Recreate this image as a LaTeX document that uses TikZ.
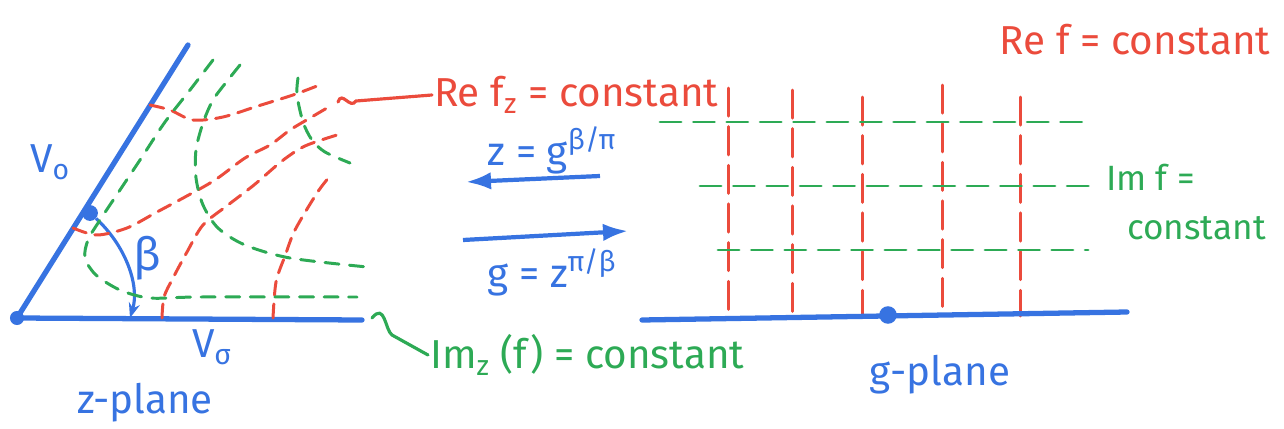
\documentclass[tikz,border=0pt]{standalone}
\usepackage{fontspec}
\setmainfont{Fira Sans}
\usepackage{tikz}
\usetikzlibrary{arrows.meta,positioning}
\definecolor{penblue}{RGB}{55,115,225}
\definecolor{penred}{RGB}{235,75,60}
\definecolor{pengreen}{RGB}{45,170,85}
\tikzset{
cmbound/.style={penblue,line width=3pt,line cap=round},
cmre/.style={penred,line width=1.7pt,dash pattern=on 8pt off 5pt,line cap=round},
cmim/.style={pengreen,line width=1.7pt,dash pattern=on 8pt off 6pt,line cap=round},
cmgre/.style={cmre,dash pattern=on 16pt off 6pt},
cmgim/.style={cmim,dash pattern=on 12pt off 7pt},
cmdot/.style={circle,fill=penblue,inner sep=0pt,minimum size=8pt},
cmmap/.style={penblue,line width=2.4pt,-{Latex[length=5mm,width=3.5mm]}},
cmangle/.style={penblue,line width=1.8pt,-{Stealth[length=3mm]}},
cmpoint/.style={line width=1.8pt,line cap=round},
cmtext/.style={font=\fontsize{23}{25}\selectfont,inner sep=1pt}
}

\begin{document}
\begin{tikzpicture}[
x=0.02cm,
y=-0.02cm
]
\useasboundingbox (0,0) rectangle (1284,429);
% z-plane
\coordinate (vertex) at (17,318);
\coordinate (vtop) at (188,45);
\coordinate (zend) at (362,320);
\draw[cmbound] (vtop)--(vertex)--(zend);
\node[cmdot] (vdot) at (vertex) {};
\node[cmdot,minimum size=9pt] (bdot) at (90,213) {};
\coordinate (bend) at (130,318);
\draw[cmangle] (bdot) .. controls (125,245) and (140,285) .. (bend);
\draw[cmre] plot[smooth] coordinates {(150,105) (170,110) (193,120) (223,117) (258,106) (293,95) (317,86)};
\draw[cmre] plot[smooth] coordinates {(73,228) (97,235) (127,228) (157,212) (185,197) (215,180) (245,158) (270,145) (290,130) (310,118) (327,108)};
\draw[cmre] plot[smooth] coordinates {(162,318) (164,297) (173,278) (187,252) (203,225) (228,205) (254,185) (282,161) (305,146) (337,135)};
\draw[cmre] plot[smooth] coordinates {(273,318) (276,282) (285,256) (295,230) (317,193) (330,176)};
\draw[cmim] plot[smooth] coordinates {(213,60) (190,90) (165,122) (142,157) (120,190) (100,220) (88,240) (85,258) (96,275) (120,290) (150,298) (200,297) (357,297)};
\draw[cmim] plot[smooth] coordinates {(240,65) (228,80) (213,100) (203,123) (196,150) (196,178) (203,205) (218,228) (245,245) (290,258) (367,267)};
\draw[cmim] plot[smooth] coordinates {(298,78) (297,95) (303,122) (312,140) (325,152) (350,163)};
\node[cmtext,penblue] (vo) at (50,162) {V\textsubscript{o}};
\node[cmtext,penblue] (vs) at (212,347) {V\textsubscript{σ}};
\node[cmtext,penblue,font=\fontsize{26}{28}\selectfont] (beta) at (147,258) {β};
\node[cmtext,penblue] (zplane) at (145,403) {z-plane};
\node[cmtext,penred,anchor=west] (rez) at (432,95) {Re f\textsubscript{z} = constant};
\coordinate (repoint) at (338,102);
\draw[cmpoint,penred] (repoint) .. controls (342,90) and (350,110) .. (356,101) -- (rez.west);
\node[cmtext,pengreen,anchor=west] (imz) at (428,355) {Im\textsubscript{z} (f) = constant};
\coordinate (impoint) at (372,318);
\draw[cmpoint,pengreen] (impoint) .. controls (385,302) and (385,330) .. (392,335) -- (imz.west);
% mapping
\coordinate (mapla) at (600,176);
\coordinate (maplb) at (466,182);
\draw[cmmap] (mapla)--(maplb);
\node[cmtext,penblue] (zmap) at (552,150) {z = g\textsuperscript{β/π}};
\coordinate (mapra) at (463,240);
\coordinate (maprb) at (628,231);
\draw[cmmap] (mapra)--(maprb);
\node[cmtext,penblue] (gmap) at (552,272) {g = z\textsuperscript{π/β}};
% g-plane
\coordinate (gleft) at (642,320);
\coordinate (gright) at (1127,312);
\foreach \gx/\gy in {728/88,792/90,862/97,942/85,1020/97}
  \draw[cmgre] (\gx,\gy)--(\gx,316);
\draw[cmgim] (660,122)--(1090,122);
\draw[cmgim] (700,186)--(1095,186);
\draw[cmgim] (718,250)--(1088,250);
\draw[cmbound] (gleft)--(gright);
\node[cmdot,minimum size=10pt] (gdot) at (888,315) {};
\node[cmtext,penred] (ref) at (1135,40) {Re f = constant};
\node[cmtext,pengreen,anchor=west,align=left,font=\fontsize{20}{28}\selectfont] (imf) at (1104,202) {Im f =\\\hspace*{0.6em}constant};
\node[cmtext,penblue] (gplane) at (940,375) {g-plane};
\end{tikzpicture}
\end{document}
